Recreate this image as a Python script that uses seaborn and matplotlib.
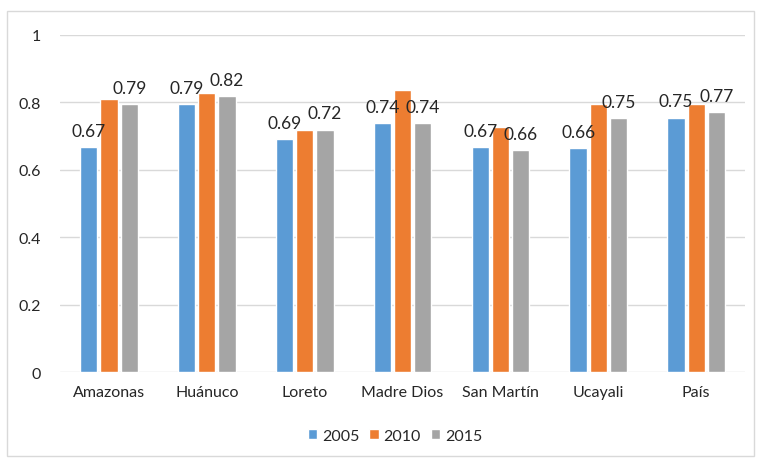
import numpy as np
import pandas as pd
import seaborn as sns
import matplotlib.pyplot as plt
from matplotlib.patches import Rectangle
from matplotlib.ticker import FuncFormatter

regions = ["Amazonas", "Huánuco", "Loreto", "Madre Dios", "San Martín", "Ucayali", "País"]
years = ["2005", "2010", "2015"]
v2005 = [0.667, 0.794, 0.690, 0.737, 0.666, 0.663, 0.754]
v2010 = [0.809, 0.827, 0.718, 0.836, 0.727, 0.794, 0.794]
v2015 = [0.794, 0.817, 0.718, 0.737, 0.658, 0.752, 0.771]
colors = ["#5B9BD5", "#ED7D31", "#A5A5A5"]

df = pd.DataFrame({
    "region": regions * 3,
    "year": sum([[y] * len(regions) for y in years], []),
    "value": v2005 + v2010 + v2015,
})

sns.set_theme(style="white")
plt.rcParams["font.family"] = ["Lato", "DejaVu Sans"]

fig = plt.figure(figsize=(7.57, 4.60), dpi=100)
ax = fig.add_axes([0.0793, 0.189, 0.905, 0.7335])

sns.barplot(data=df, x="region", y="value", hue="year", hue_order=years,
            palette=colors, saturation=1, width=0.62, gap=0.15, ax=ax, legend=True)

# only the 2005 and 2015 bars carry labels
for i in (0, 2):
    ax.bar_label(ax.containers[i], fmt="%.2f", padding=6, fontsize=12.5, color="#262626")

ax.set_ylim(0, 1)
ax.set_xlim(-0.5, 6.5)
ax.set_yticks(np.arange(0, 1.01, 0.2))
ax.yaxis.set_major_formatter(FuncFormatter(lambda v, p: "1" if v == 1 else ("0" if v == 0 else f"{v:.1f}")))
ax.yaxis.grid(True, color="#D9D9D9", linewidth=1)
ax.set_axisbelow(True)
for s in ax.spines.values():
    s.set_visible(False)
ax.tick_params(axis="y", length=0, pad=14, labelsize=11.5, labelcolor="#262626")
ax.tick_params(axis="x", length=0, pad=9, labelsize=11.5, labelcolor="#262626")
ax.set_xlabel("")
ax.set_ylabel("")

handles, labels = ax.get_legend_handles_labels()
ax.legend_.remove()
fig.legend(handles, labels, loc="center", bbox_to_anchor=(395 / 757, 1 - 437 / 460),
           ncol=3, frameon=False, fontsize=11.5, handlelength=0.6, handleheight=0.6,
           handletextpad=0.3, columnspacing=0.6, labelcolor="#262626")

fig.patches.append(Rectangle((7 / 757, 3 / 460), 747 / 757, 445 / 460,
                             transform=fig.transFigure, fill=False,
                             edgecolor="#D9D9D9", linewidth=1))

fig.savefig("out.png", dpi=100)
